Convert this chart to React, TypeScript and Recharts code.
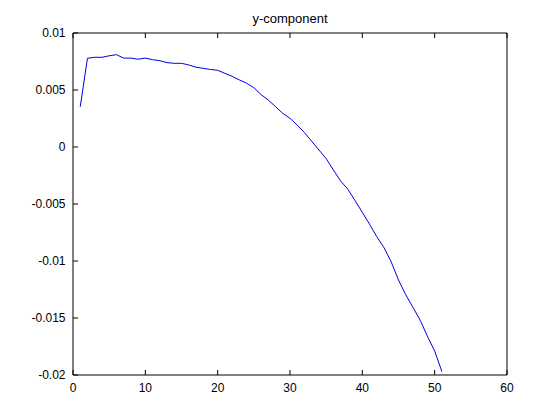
import { LineChart, Line, XAxis, YAxis } from 'recharts';

const xValues: number[] = [
  1, 2, 3, 4, 5, 6, 7, 8, 9, 10,
  11, 12, 13, 14, 15, 16, 17, 18, 19, 20,
  21, 22, 23, 24, 25, 26, 27, 28, 29, 30,
  31, 32, 33, 34, 35, 36, 37, 38, 39, 40,
  41, 42, 43, 44, 45, 46, 47, 48, 49, 50, 51,
];

const yValues: number[] = [
  0.00353, 0.00778, 0.00787, 0.00787, 0.0080, 0.0081, 0.0078, 0.0078, 0.0077, 0.0078,
  0.00766, 0.00757, 0.0074, 0.00734, 0.00734, 0.0072, 0.0070, 0.0069, 0.0068, 0.00673,
  0.00646, 0.0062, 0.00588, 0.0056, 0.0052, 0.0046, 0.00412, 0.00354, 0.00295, 0.00251,
  0.00193, 0.00126, 0.0005, -0.00026, -0.00102, -0.00202, -0.00298, -0.00371, -0.00471, -0.00573,
  -0.00678, -0.00787, -0.00883, -0.01009, -0.01167, -0.01296, -0.01406, -0.0152, -0.0166, -0.0179, -0.0197,
];

const xTicks = [0, 10, 20, 30, 40, 50, 60];
const yTicks = [-0.02, -0.015, -0.01, -0.005, 0, 0.005, 0.01];
const title = 'y-component';

const data = xValues.map((x, i) => ({ x, y: yValues[i] }));

const FONT = 'Liberation Sans, Arial, sans-serif';
const GAP = 10; // tickMargin, lets the tick work back to the axis line
const TICK = 5; // inward tick length, matlab style

const BottomTick = (props: any) => {
  const { x, y, payload } = props;
  const axisY = y - GAP;
  return (
    <g>
      <line x1={x} y1={axisY} x2={x} y2={axisY - TICK} stroke="#000" />
      <text x={x} y={axisY + 8} dy="0.71em" textAnchor="middle" fontFamily={FONT} fontSize={12} fill="#000">
        {payload.value}
      </text>
    </g>
  );
};

const TopTick = (props: any) => {
  const { x, y } = props;
  const axisY = y + GAP;
  return <line x1={x} y1={axisY} x2={x} y2={axisY + TICK} stroke="#000" />;
};

const LeftTick = (props: any) => {
  const { x, y, payload } = props;
  const axisX = x + GAP;
  return (
    <g>
      <line x1={axisX} y1={y} x2={axisX + TICK} y2={y} stroke="#000" />
      <text x={axisX - 7.5} y={y} dy="0.355em" textAnchor="end" fontFamily={FONT} fontSize={12} fill="#000">
        {payload.value}
      </text>
    </g>
  );
};

const RightTick = (props: any) => {
  const { x, y } = props;
  const axisX = x - GAP;
  return <line x1={axisX} y1={y} x2={axisX - TICK} y2={y} stroke="#000" />;
};

const App = () => {
  return (
    <div style={{ position: 'absolute', left: 0, top: 0, width: 560, height: 420, background: '#fff' }}>
      <div
        style={{
          position: 'absolute',
          left: 0,
          top: 12,
          width: 580,
          textAlign: 'center',
          fontFamily: FONT,
          fontSize: 13,
          lineHeight: '14px',
          color: '#000',
        }}
      >
        {title}
      </div>
      <LineChart width={560} height={420} data={data} margin={{ top: 32, right: 0, left: 0, bottom: 0 }}>
        <XAxis
          dataKey="x"
          type="number"
          domain={[0, 60]}
          ticks={xTicks}
          height={45}
          tickSize={0}
          tickMargin={GAP}
          tickLine={false}
          stroke="#000"
          tick={<BottomTick />}
          interval={0}
        />
        <XAxis
          xAxisId="top"
          orientation="top"
          dataKey="x"
          type="number"
          domain={[0, 60]}
          ticks={xTicks}
          height={1}
          tickSize={0}
          tickMargin={GAP}
          tickLine={false}
          stroke="#000"
          tick={<TopTick />}
          interval={0}
        />
        <YAxis
          type="number"
          domain={[-0.02, 0.01]}
          ticks={yTicks}
          width={73}
          tickSize={0}
          tickMargin={GAP}
          tickLine={false}
          stroke="#000"
          tick={<LeftTick />}
          interval={0}
        />
        <YAxis
          yAxisId="right"
          orientation="right"
          type="number"
          domain={[-0.02, 0.01]}
          ticks={yTicks}
          width={53}
          tickSize={0}
          tickMargin={GAP}
          tickLine={false}
          stroke="#000"
          tick={<RightTick />}
          interval={0}
        />
        <Line
          type="linear"
          dataKey="y"
          stroke="#0000e6"
          strokeWidth={1}
          dot={false}
          isAnimationActive={false}
        />
      </LineChart>
    </div>
  );
};

export default App;
